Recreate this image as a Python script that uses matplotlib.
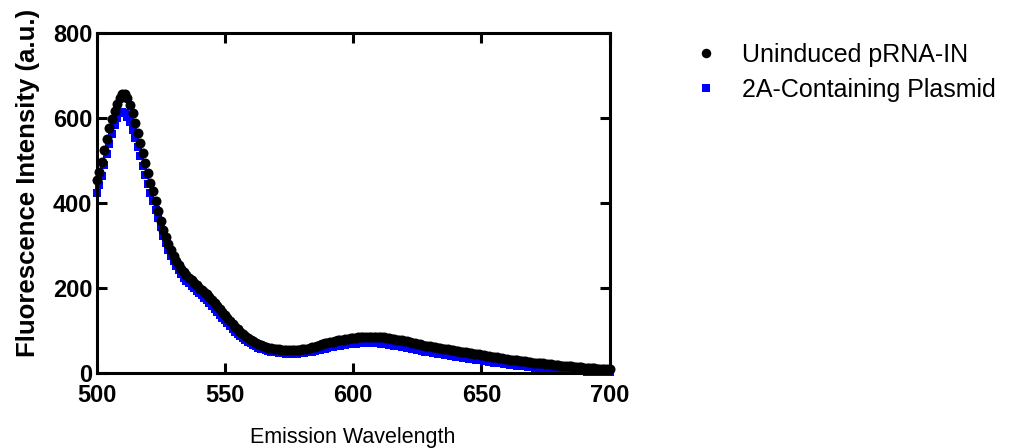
import numpy as np
import matplotlib.pyplot as plt

plt.rcParams['font.family'] = ['Liberation Sans', 'DejaVu Sans']

# emission wavelength grid (nm), 1 nm steps
wavelength = np.arange(500, 701)

# Uninduced pRNA-IN
uninduced = [
    454, 474, 498, 524, 550, 576, 598, 617, 634, 648,
    657, 656, 648, 632, 612, 588, 566, 542, 518, 495,
    472, 448, 428, 405, 382, 358, 338, 320, 304, 289,
    276, 265, 255, 246, 238, 231, 225, 219, 213, 207,
    201, 196, 191, 186, 180, 173, 166, 159, 151, 144,
    137, 130, 123, 116, 109, 103, 97, 92, 87, 83,
    79, 75, 72, 69, 66, 64, 62, 60, 59, 58,
    57, 56, 55, 55, 54, 54, 54, 54, 55, 55,
    56, 57, 58, 59, 61, 62, 64, 66, 68, 70,
    71, 73, 74, 76, 77, 78, 79, 80, 81, 82,
    83, 83, 84, 84, 85, 85, 85, 85, 85, 85,
    85, 84, 84, 83, 82, 81, 80, 79, 78, 77,
    76, 75, 73, 72, 71, 69, 68, 67, 65, 64,
    63, 62, 61, 60, 59, 58, 57, 56, 55, 54,
    53, 52, 51, 50, 49, 48, 47, 46, 45, 44,
    43, 42, 41, 40, 39, 38, 37, 36, 35, 34,
    33, 32, 31, 31, 30, 29, 28, 28, 27, 26,
    25, 25, 24, 23, 23, 22, 21, 21, 20, 19,
    19, 18, 18, 17, 16, 16, 15, 15, 14, 14,
    13, 13, 12, 12, 12, 11, 11, 10, 10, 10,
    9,
]

# 2A-Containing Plasmid
plasmid_2a = [
    423, 442, 465, 490, 515, 540, 563, 583, 600, 611,
    615, 612, 603, 590, 573, 553, 532, 510, 488, 467,
    446, 425, 405, 385, 364, 343, 323, 306, 290, 276,
    263, 252, 242, 233, 225, 218, 212, 206, 200, 194,
    188, 183, 178, 172, 166, 159, 152, 145, 138, 131,
    124, 117, 111, 104, 98, 92, 87, 82, 77, 73,
    70, 66, 63, 60, 58, 56, 54, 52, 51, 50,
    49, 48, 47, 47, 46, 46, 46, 46, 46, 47,
    47, 48, 49, 50, 51, 52, 54, 55, 57, 58,
    59, 61, 62, 63, 64, 65, 66, 67, 68, 68,
    69, 69, 70, 70, 70, 70, 70, 70, 70, 70,
    70, 69, 69, 68, 67, 66, 65, 64, 63, 62,
    61, 60, 59, 57, 56, 55, 54, 52, 51, 50,
    49, 48, 47, 46, 45, 44, 43, 42, 41, 40,
    39, 38, 37, 36, 35, 34, 33, 33, 32, 31,
    30, 29, 28, 27, 26, 25, 25, 24, 23, 22,
    21, 20, 20, 19, 18, 17, 17, 16, 15, 14,
    14, 13, 12, 12, 11, 10, 10, 9, 9, 8,
    8, 7, 7, 6, 6, 5, 5, 5, 4, 4,
    4, 3, 3, 3, 3, 2, 2, 2, 2, 2,
    2,
]

fig = plt.figure(figsize=(10.28, 4.48), dpi=100)
ax = fig.add_axes([0.094, 0.167, 0.499, 0.759])

ax.plot(wavelength, plasmid_2a, 's', color='#0000ff', markersize=6.3,
        markeredgewidth=0, label='2A-Containing Plasmid', clip_on=False)
ax.plot(wavelength, uninduced, 'o', color='black', markersize=7.2,
        markeredgewidth=0, label='Uninduced pRNA-IN', clip_on=False)

ax.set_xlim(500, 700)
ax.set_ylim(0, 800)
ax.set_xticks([500, 550, 600, 650, 700])
ax.set_yticks([0, 200, 400, 600, 800])

for s in ax.spines.values():
    s.set_linewidth(2.2)
ax.tick_params(direction='in', length=7, width=2.2, top=True, right=True,
               labelsize=17, pad=3)
for lbl in ax.get_xticklabels() + ax.get_yticklabels():
    lbl.set_fontweight('bold')
ax.tick_params(axis='x', pad=8)

ax.set_ylabel('Fluorescence Intensity (a.u.)', fontsize=18.5, fontweight='bold')
ax.yaxis.set_label_coords(-0.111, 0.56)
ax.set_xlabel('Emission Wavelength', fontsize=15.5, labelpad=14)

handles, labels = ax.get_legend_handles_labels()
fig.legend(handles[::-1], labels[::-1], loc='upper left', bbox_to_anchor=(0.656, 0.954),
           frameon=False, fontsize=18, handlelength=0.7, handletextpad=1.12,
           labelspacing=0.43, markerscale=0.95)

fig.savefig('out.png', dpi=100)
